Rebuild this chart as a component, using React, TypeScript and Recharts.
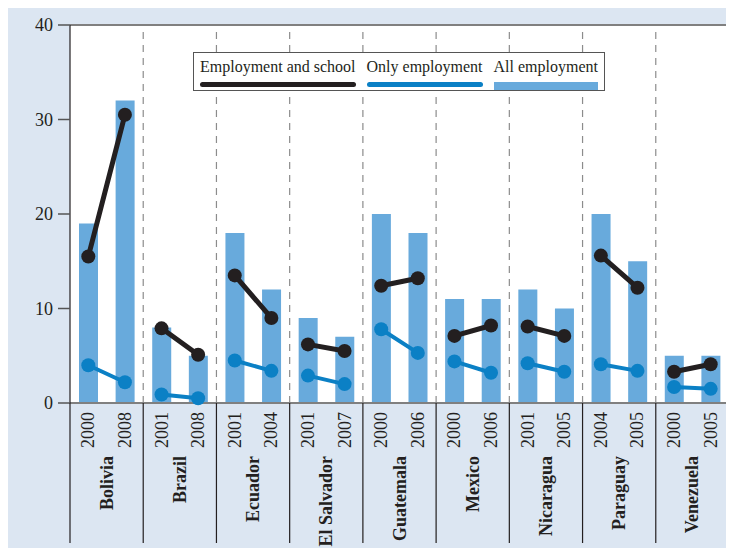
import { Bar, ComposedChart, Line, ReferenceLine, XAxis, YAxis } from "recharts"

const countries = ["Bolivia", "Brazil", "Ecuador", "El Salvador", "Guatemala", "Mexico", "Nicaragua", "Paraguay", "Venezuela"]
const years = [
  "2000", "2008", "2001", "2008", "2001", "2004", "2001", "2007", "2000",
  "2006", "2000", "2006", "2001", "2005", "2004", "2005", "2000", "2005",
]
const allEmployment = [19, 32, 8, 5, 18, 12, 9, 7, 20, 18, 11, 11, 12, 10, 20, 15, 5, 5]
const employmentSchool = [15.5, 30.5, 7.9, 5.1, 13.5, 9, 6.2, 5.5, 12.4, 13.2, 7.1, 8.2, 8.1, 7.1, 15.6, 12.2, 3.3, 4.1]
const onlyEmployment = [4, 2.2, 0.9, 0.5, 4.5, 3.4, 2.9, 2, 7.8, 5.3, 4.4, 3.2, 4.2, 3.3, 4.1, 3.4, 1.7, 1.5]
const yTicks = [0, 10, 20, 30, 40]

const BLACK = "#231f20"
const BLUE = "#0b80c5"
const BAR = "#68aadc"
const BG = "#dce6f2"
const FONT = "'Liberation Serif', 'DejaVu Serif', serif"

// two keys per series, alternating by country, so lines only join the two years of one country
const rows = years.map((year, i) => {
  const c = Math.floor(i / 2)
  const even = c % 2 === 0
  return {
    key: `${countries[c]}|${year}`,
    country: countries[c],
    year,
    all: allEmployment[i],
    esA: even ? employmentSchool[i] : null,
    esB: even ? null : employmentSchool[i],
    oeA: even ? onlyEmployment[i] : null,
    oeB: even ? null : onlyEmployment[i],
  }
})

const legendItems = [
  { name: "Employment and school", color: BLACK, kind: "line" },
  { name: "Only employment", color: BLUE, kind: "line" },
  { name: "All employment", color: BAR, kind: "bar" },
]

function YearTick(props: any) {
  const { x, y, payload, width } = props
  const i = rows.findIndex((r) => r.key === payload.value)
  if (i < 0) return null
  const half = width / rows.length / 2
  const row = rows[i]
  return (
    <g>
      <text
        x={x + 6}
        y={y + 9}
        transform={`rotate(-90 ${x + 6} ${y + 9})`}
        textAnchor="end"
        fontSize={18}
        fontFamily={FONT}
        fill={BLACK}
      >
        {row.year}
      </text>
      {i % 2 === 0 && (
        <>
          <line x1={x - half} x2={x - half} y1={y} y2={y + 140} stroke={BLACK} strokeWidth={1.2} />
          <text
            x={x + half + 6}
            y={y + 53}
            transform={`rotate(-90 ${x + half + 6} ${y + 53})`}
            textAnchor="end"
            fontSize={18}
            fontWeight="bold"
            fontFamily={FONT}
            fill={BLACK}
          >
            {row.country}
          </text>
        </>
      )}
      {i === rows.length - 1 && (
        <line x1={x + half} x2={x + half} y1={y} y2={y + 140} stroke={BLACK} strokeWidth={1.2} />
      )}
    </g>
  )
}

export default function App() {
  return (
    <div style={{ position: "relative", width: 727, height: 540, background: BG }}>
      <ComposedChart
        width={727}
        height={540}
        data={rows}
        margin={{ top: 17, right: 6, bottom: 5, left: 0 }}
        style={{ position: "absolute", left: 0, top: 0 }}
      >
        <rect x={62} y={17} width={659} height={378} fill="#fff" />
        <XAxis
          dataKey="key"
          interval={0}
          height={140}
          tickSize={0}
          tickMargin={0}
          tick={<YearTick />}
          axisLine={{ stroke: "#808080", strokeWidth: 2 }}
          tickLine={false}
        />
        <YAxis
          domain={[0, 40]}
          ticks={yTicks}
          width={62}
          tickSize={12}
          tickMargin={5}
          axisLine={{ stroke: BLACK, strokeWidth: 1.2 }}
          tickLine={{ stroke: "#555", strokeWidth: 1.5 }}
          tick={{ fontSize: 18, fontFamily: FONT, fill: BLACK }}
        />
        {countries.slice(1).map((c, n) => (
          <ReferenceLine
            key={c}
            x={rows[(n + 1) * 2].key}
            position="start"
            stroke="#8c8c8c"
            strokeWidth={1.2}
            strokeDasharray="7 6"
          />
        ))}
        <ReferenceLine y={40} stroke="#808080" strokeWidth={2} />
        <ReferenceLine x={rows[rows.length - 1].key} position="end" stroke="#555" strokeWidth={2} />
        <Bar dataKey="all" fill={BAR} barSize={19} isAnimationActive={false} />
        {["oeA", "oeB"].map((k) => (
          <Line
            key={k}
            dataKey={k}
            stroke={BLUE}
            strokeWidth={4}
            dot={{ r: 7, fill: BLUE, stroke: BLUE, strokeWidth: 0 }}
            activeDot={false}
            isAnimationActive={false}
          />
        ))}
        {["esA", "esB"].map((k) => (
          <Line
            key={k}
            dataKey={k}
            stroke={BLACK}
            strokeWidth={5}
            dot={{ r: 7, fill: BLACK, stroke: BLACK, strokeWidth: 0 }}
            activeDot={false}
            isAnimationActive={false}
          />
        ))}
      </ComposedChart>
      <div
        style={{
          position: "absolute",
          left: 185,
          top: 44,
          width: 412,
          height: 39,
          boxSizing: "border-box",
          background: "#fff",
          border: "1.5px solid #555",
          display: "flex",
          gap: 11,
          padding: "4px 6px 0 6px",
          fontFamily: FONT,
          fontSize: 16,
          color: BLACK,
        }}
      >
        {legendItems.map((item) => (
          <div key={item.name} style={{ display: "flex", flexDirection: "column", whiteSpace: "nowrap" }}>
            <span style={{ lineHeight: "20px" }}>{item.name}</span>
            <span
              style={{
                marginTop: 5,
                height: item.kind === "bar" ? 8 : 5,
                background: item.color,
                borderRadius: item.kind === "bar" ? 0 : 3,
              }}
            />
          </div>
        ))}
      </div>
    </div>
  )
}
